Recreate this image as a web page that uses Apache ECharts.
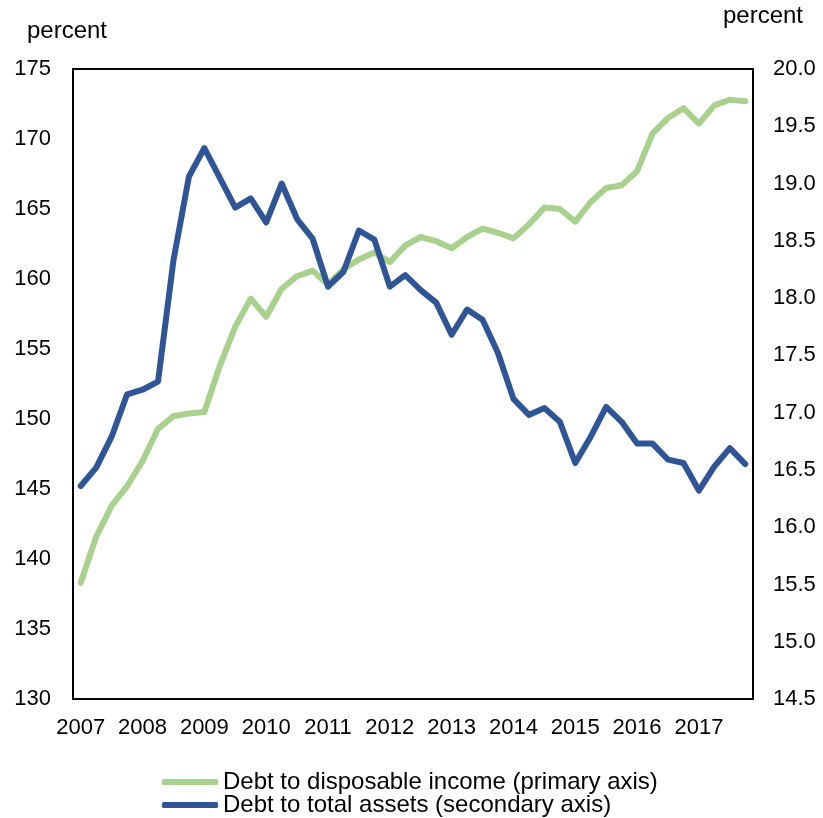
<!DOCTYPE html>
<html>
<head>
<meta charset="utf-8">
<script src="https://cdn.jsdelivr.net/npm/echarts@6/dist/echarts.min.js"></script>
<style>
html,body{margin:0;padding:0;background:#fff;}
#chart{width:823px;height:818px;}
</style>
</head>
<body>
<div id="chart"></div>
<script>
// Quarterly categories 2007Q1 .. 2017Q4
var years = ['2007','2008','2009','2010','2011','2012','2013','2014','2015','2016','2017'];
var categories = [];
years.forEach(function (y) { ['Q1','Q2','Q3','Q4'].forEach(function (q) { categories.push(y + ' ' + q); }); });

var seriesNames = ['Debt to disposable income (primary axis)', 'Debt to total assets (secondary axis)'];

// Debt to disposable income (percent, left axis)
var debtToIncome = [
  138.3, 141.6, 143.8, 145.2, 147.0, 149.3, 150.2, 150.4,
  150.5, 153.8, 156.6, 158.6, 157.3, 159.3, 160.2, 160.6,
  159.6, 160.7, 161.4, 161.9, 161.2, 162.4, 163.0, 162.7,
  162.2, 163.0, 163.6, 163.3, 162.9, 163.9, 165.1, 165.0,
  164.1, 165.5, 166.5, 166.7, 167.7, 170.4, 171.5, 172.2,
  171.1, 172.4, 172.8, 172.7
];

// Debt to total assets (percent, right axis)
var debtToAssets = [
  16.36, 16.52, 16.79, 17.16, 17.20, 17.27, 18.33, 19.06,
  19.31, 19.05, 18.79, 18.87, 18.66, 19.00, 18.69, 18.52,
  18.10, 18.23, 18.59, 18.51, 18.10, 18.20, 18.07, 17.96,
  17.68, 17.90, 17.81, 17.52, 17.12, 16.98, 17.04, 16.92,
  16.56, 16.79, 17.05, 16.92, 16.73, 16.73, 16.59, 16.56,
  16.32, 16.53, 16.69, 16.55
];

var leftAxis = { min: 130, max: 175, interval: 5 };
var rightAxis = { min: 14.5, max: 20.0, interval: 0.5 };

var GREEN = '#A9D18E';
var BLUE = '#2F5597';
var FONT = '"Liberation Sans", Arial, sans-serif';

function legendFor(name, top) {
  return {
    orient: 'horizontal',
    left: 157, top: top,
    itemWidth: 56, itemHeight: 6, itemGap: 0,
    icon: 'roundRect',
    textStyle: { fontFamily: FONT, fontSize: 24, color: '#000', lineHeight: 24 },
    data: [name]
  };
}

var chart = echarts.init(document.getElementById('chart'), null, { renderer: 'canvas' });
chart.setOption({
  animation: false,
  backgroundColor: '#fff',
  textStyle: { fontFamily: FONT, color: '#000' },
  grid: {
    left: 73, top: 69, right: 70, bottom: 119,
    show: true, borderColor: '#000', borderWidth: 2, backgroundColor: 'transparent'
  },
  legend: [legendFor(seriesNames[0], 765), legendFor(seriesNames[1], 788)],
  xAxis: {
    type: 'category',
    data: categories,
    boundaryGap: true,
    axisLine: { show: false },
    axisTick: { show: false },
    axisLabel: {
      interval: 3,
      margin: 18,
      fontSize: 22,
      color: '#000',
      fontFamily: FONT,
      formatter: function (v) { return v.split(' ')[0]; }
    },
    splitLine: { show: false }
  },
  yAxis: [
    {
      type: 'value',
      position: 'left',
      min: leftAxis.min, max: leftAxis.max, interval: leftAxis.interval,
      name: 'percent',
      nameLocation: 'end',
      nameGap: 26,
      nameTextStyle: { fontFamily: FONT, fontSize: 24, color: '#000', padding: [0, 12, 0, 0] },
      axisLine: { show: false },
      axisTick: { show: false },
      splitLine: { show: false },
      axisLabel: { margin: 22, fontSize: 22, color: '#000', fontFamily: FONT }
    },
    {
      type: 'value',
      position: 'right',
      min: rightAxis.min, max: rightAxis.max, interval: rightAxis.interval,
      name: 'percent',
      nameLocation: 'end',
      nameGap: 41,
      nameTextStyle: { fontFamily: FONT, fontSize: 24, color: '#000', padding: [0, 0, 0, 20] },
      axisLine: { show: false },
      axisTick: { show: false },
      splitLine: { show: false },
      axisLabel: {
        margin: 20, fontSize: 22, color: '#000', fontFamily: FONT,
        formatter: function (v) { return v.toFixed(1); }
      }
    }
  ],
  series: [
    {
      name: seriesNames[0],
      type: 'line',
      yAxisIndex: 0,
      data: debtToIncome,
      showSymbol: false,
      symbol: 'none',
      color: GREEN,
      lineStyle: { color: GREEN, width: 6, cap: 'round', join: 'round' },
      itemStyle: { color: GREEN },
      z: 2
    },
    {
      name: seriesNames[1],
      type: 'line',
      yAxisIndex: 1,
      data: debtToAssets,
      showSymbol: false,
      symbol: 'none',
      color: BLUE,
      lineStyle: { color: BLUE, width: 6, cap: 'round', join: 'round' },
      itemStyle: { color: BLUE },
      z: 3
    }
  ]
});
</script>
</body>
</html>
